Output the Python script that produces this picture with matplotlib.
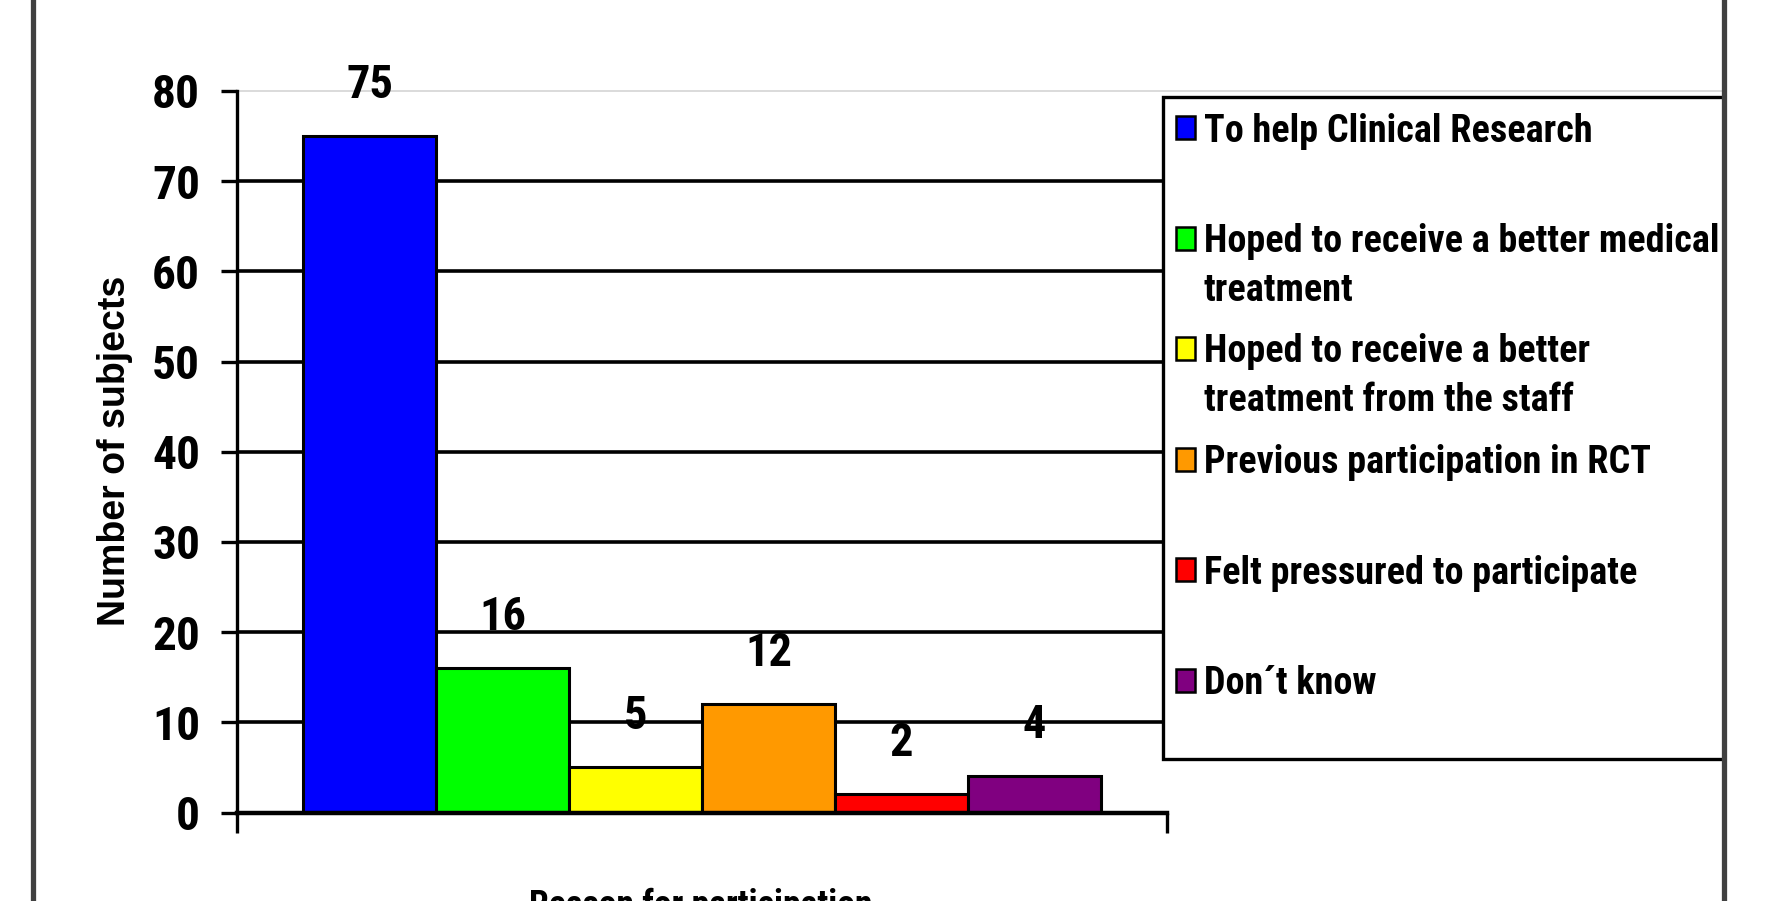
import os
import textwrap
import matplotlib
import matplotlib.pyplot as plt
from matplotlib import font_manager
from matplotlib.font_manager import FontProperties
from matplotlib.lines import Line2D
from matplotlib.patches import Rectangle

matplotlib.use('Agg')

# data
reasons = [
    'To help Clinical Research',
    'Hoped to receive a better medical treatment',
    'Hoped to receive a better treatment from the staff',
    'Previous participation in RCT',
    'Felt pressured to participate',
    'Don\u00b4t know',
]
subjects = [75, 16, 5, 12, 2, 4]
bar_colors = ['#0000FF', '#00FF00', '#FFFF00', '#FF9900', '#FF0000', '#800080']
y_ticks = [0, 10, 20, 30, 40, 50, 60, 70, 80]

W, H = 1782, 901


def narrow_bold():
    # the chart uses a condensed bold face; take the closest one installed
    files = [f.fname for f in font_manager.fontManager.ttflist]
    prefs = ['LiberationSansNarrow-Bold.', 'ArialNarrowBold', 'arialnb',
             'RobotoCondensed-Bold.', 'NotoSans-CondensedBold.',
             'OpenSans-CondBold.', 'OpenSans_Condensed-Bold.',
             'DejaVuSansCondensed-Bold.']
    for p in prefs:
        for f in files:
            if os.path.basename(f).lower().startswith(p.lower()):
                return FontProperties(fname=f)
    for f in files:
        b = os.path.basename(f)
        if ('Condensed' in b or 'Narrow' in b) and 'Bold' in b and 'Italic' not in b \
                and 'Extra' not in b and 'Semi' not in b:
            return FontProperties(fname=f)
    return FontProperties(family='Liberation Sans', weight='bold')


fig = plt.figure(figsize=(W / 100, H / 100), dpi=100)
renderer = fig.canvas.get_renderer()
base_fp = narrow_bold()


def fitted(text, target_px):
    fp = base_fp.copy()
    fp.set_size(20)
    w, _, _ = renderer.get_text_width_height_descent(text, fp, ismath=False)
    fp.set_size(20 * target_px / w)
    return fp


tick_fp = fitted('80', 48)
value_fp = fitted('75', 47)
legend_fp = fitted(reasons[0], 387)
xlabel_fp = fitted('Reason for participation', 343)


def fx(x):
    return x / W


def fy(y):
    return 1 - y / H


ax = fig.add_axes([fx(237), fy(812.5), (1167 - 237) / W, (812.5 - 91) / H])

xs = list(range(len(subjects)))
ax.bar(xs, subjects, width=1.0, color=bar_colors, edgecolor='black',
       linewidth=2.2, zorder=3)

for x, v in zip(xs, subjects):
    ax.annotate(str(v), (x, v), xytext=(0, 27.5), textcoords='offset points',
                ha='center', va='baseline', fontproperties=value_fp)

ax.set_xlim(-1, len(subjects))
ax.set_ylim(0, 80)
ax.set_yticks(y_ticks)
ax.set_yticklabels([str(t) for t in y_ticks], fontproperties=tick_fp)
ax.set_xticks([-1, len(subjects)])
ax.set_xticklabels([])
ax.tick_params(axis='y', length=11.5, width=2.4, pad=15, direction='out')
ax.tick_params(axis='x', length=14.5, width=2.4, direction='out')

for t in y_ticks[1:-1]:
    ax.axhline(t, color='black', linewidth=2.6, zorder=1)
ax.axhline(80, xmin=0, xmax=(1722 - 237) / 930, color='#d4d4d4', linewidth=1.2,
           zorder=1, clip_on=False)

for side in ['top', 'right']:
    ax.spines[side].set_visible(False)
ax.spines['left'].set_linewidth(2.4)
ax.spines['bottom'].set_linewidth(3.2)
ax.spines['bottom'].set_zorder(4)

fig.text(fx(115), fy(451), 'Number of subjects', rotation=90, ha='center',
         va='center', fontsize=27, fontweight='bold', family='Liberation Sans')
fig.text(fx(701), fy(888), 'Reason for participation', ha='center', va='top',
         fontproperties=xlabel_fp)

# legend box, drawn by hand so the swatch sits on the first text line
fig.add_artist(Rectangle((fx(1163), fy(759)), (1724 - 1163) / W, (759 - 97) / H,
                         transform=fig.transFigure, facecolor='white',
                         edgecolor='black', linewidth=2.4, zorder=5))
row_top = 127.5
row_step = 110.5
sw, sh = 19, 23
for i, (name, c) in enumerate(zip(reasons, bar_colors)):
    yc = row_top + i * row_step
    fig.add_artist(Rectangle((fx(1176), fy(yc + sh / 2)), sw / W, sh / H,
                             transform=fig.transFigure, facecolor=c,
                             edgecolor='black', linewidth=1.8, zorder=6))
    fig.text(fx(1204), fy(yc - 15), textwrap.fill(name, 33), ha='left',
             va='top', fontproperties=legend_fp, linespacing=1.4, zorder=6)

# dark frame lines at left and right of the picture
for xb in [33, 1724]:
    fig.add_artist(Line2D([fx(xb), fx(xb)], [0, 1], transform=fig.transFigure,
                          color='#404040', linewidth=3.8, zorder=10))

fig.savefig('out.png', dpi=100)
